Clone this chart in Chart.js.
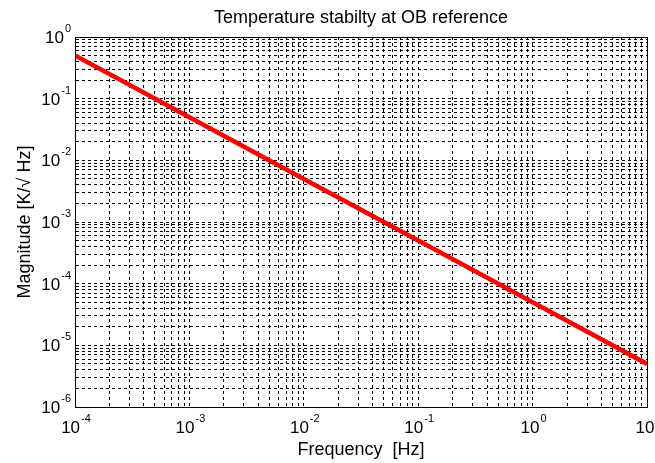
<!DOCTYPE html>
<html>
<head>
<meta charset="utf-8">
<script src="https://cdn.jsdelivr.net/npm/chart.js@4/dist/chart.umd.min.js"></script>
<style>
  html, body { margin: 0; padding: 0; background: #fff; }
  #wrap { width: 655px; height: 463px; }
</style>
</head>
<body>
<div id="wrap"><canvas id="mainChart" width="655" height="463"></canvas></div>
<script>
'use strict';

// curve (straight line on log-log axes)
const freq      = [1e-4, 1e-3, 1e-2, 1e-1, 1, 10];
const magnitude = [0.5, 0.05, 0.005, 0.0005, 0.00005, 0.000005];

// decades that get a labelled tick, and the minor multipliers between them
const xDecades  = [-4, -3, -2, -1, 0, 1];
const yDecades  = [-6, -5, -4, -3, -2, -1, 0];
const mantissas = [1, 2, 3, 4, 5, 6, 7, 8, 9];

const TITLE   = 'Temperature stabilty at OB reference';
const X_TITLE = 'Frequency  [Hz]';
const Y_TITLE = 'Magnitude [K/\u221A Hz]';
const FONT    = '"Liberation Sans", Arial, "DejaVu Sans", sans-serif';

function gridValues(decades) {
    const out = [];
    decades.forEach((d, i) => {
        if (i === decades.length - 1) { out.push(Math.pow(10, d)); return; }
        mantissas.forEach(m => out.push(m * Math.pow(10, d)));
    });
    return out.map(v => ({ value: v }));
}

// draws "10" with a raised exponent, anchored by align ('center' | 'right')
function powLabel(ctx, exp, x, y, align, plain) {
    ctx.font = '17px ' + FONT;
    const wb = ctx.measureText('10').width;
    let we = 0;
    const es = String(exp);
    if (!plain) {
        ctx.font = '11px ' + FONT;
        we = ctx.measureText(es).width + 1;
    }
    const total = wb + we;
    const x0 = align === 'right' ? x - total : x - total / 2;
    ctx.textAlign = 'left';
    ctx.textBaseline = 'alphabetic';
    ctx.font = '17px ' + FONT;
    ctx.fillText('10', x0, y);
    if (!plain) {
        ctx.font = '11px ' + FONT;
        ctx.fillText(es, x0 + wb + 1, y - 11);
    }
}

const matlabFrame = {
    id: 'matlabFrame',
    afterDraw(chart) {
        const ctx = chart.ctx;
        const { left, right, top, bottom } = chart.chartArea;
        const xs = chart.scales.x, ys = chart.scales.y;
        ctx.save();
        ctx.strokeStyle = '#000';
        ctx.lineWidth = 1;
        ctx.setLineDash([]);
        ctx.strokeRect(Math.round(left) + 0.5, Math.round(top) + 0.5,
                       Math.round(right - left), Math.round(bottom - top));
        ctx.fillStyle = '#000';

        xDecades.forEach(d => {
            const px = xs.getPixelForValue(Math.pow(10, d));
            if (d === 1) powLabel(ctx, d, px - 2, bottom + 26, 'center', true);
            else powLabel(ctx, d, px + 1, bottom + 26, 'center', false);
        });
        yDecades.forEach(d => {
            const py = ys.getPixelForValue(Math.pow(10, d));
            powLabel(ctx, d, left - 4, py + 6, 'right', false);
        });

        ctx.textAlign = 'center';
        ctx.textBaseline = 'alphabetic';
        ctx.font = '18px ' + FONT;
        ctx.fillText(TITLE, (left + right) / 2, 23);
        ctx.fillText(X_TITLE, (left + right) / 2, bottom + 48);

        ctx.translate(30, (top + bottom) / 2);
        ctx.rotate(-Math.PI / 2);
        ctx.fillText(Y_TITLE, 0, 0);
        ctx.restore();
    }
};

const gridStyle = { color: '#000', lineWidth: 1, drawTicks: false };
const borderStyle = { display: true, color: '#000', width: 1, dash: [3, 3] };

new Chart(document.getElementById('mainChart').getContext('2d'), {
    type: 'line',
    data: {
        datasets: [{
            label: 'Magnitude',
            data: freq.map((f, i) => ({ x: f, y: magnitude[i] })),
            borderColor: '#ff0000',
            borderWidth: 4.5,
            pointRadius: 0,
            fill: false,
            tension: 0,
        }]
    },
    options: {
        responsive: false,
        animation: false,
        layout: { padding: { top: 37, right: 8, left: 0, bottom: 0 } },
        plugins: {
            legend: { display: false },
            title: { display: false },
            tooltip: { enabled: false }
        },
        scales: {
            x: {
                type: 'logarithmic',
                min: 1e-4, max: 10,
                afterBuildTicks: s => { s.ticks = gridValues(xDecades); },
                afterFit: s => { s.height = 56; },
                ticks: { display: false },
                grid: gridStyle,
                border: borderStyle
            },
            y: {
                type: 'logarithmic',
                min: 1e-6, max: 1,
                afterBuildTicks: s => { s.ticks = gridValues(yDecades); },
                afterFit: s => { s.width = 75; },
                ticks: { display: false },
                grid: gridStyle,
                border: borderStyle
            }
        }
    },
    plugins: [matlabFrame]
});
</script>
</body>
</html>
